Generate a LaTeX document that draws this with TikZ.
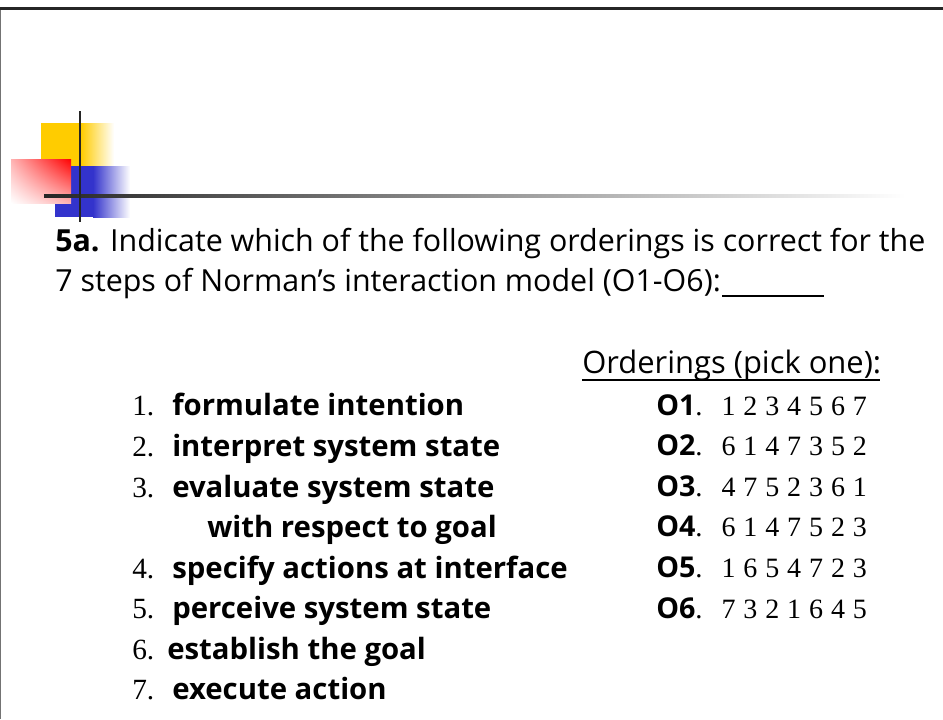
\documentclass[tikz,border=0pt]{standalone}
\usepackage{fontspec}
\setmainfont{Liberation Serif}
\newfontfamily\comic{Open Sans}
\usetikzlibrary{positioning, shadings}

\begin{document}
\begin{tikzpicture}[x=0.75pt,y=-0.75pt,
    every node/.style={inner sep=0pt, anchor=base west},
    qtext/.style={font=\comic\fontsize{22.8}{27}\selectfont},
    steptext/.style={font=\comic\bfseries\fontsize{22}{26}\selectfont},
    stepnum/.style={font=\fontsize{22}{26}\selectfont},
    ordhead/.style={font=\comic\fontsize{23.2}{27}\selectfont},
    ordlabel/.style={font=\comic\bfseries\fontsize{21.5}{26}\selectfont},
    digit/.style={font=\fontsize{21}{25}\selectfont, anchor=base},
  ]
  \useasboundingbox (0,0) rectangle (943,719);
  % slide frame
  \fill [ black!85 ] (0,7) rectangle (943,10);
  \fill [ black!55 ] (0,10) rectangle (1.3,719);
  % corner logo
  \fill [ fill={rgb,255:red,255;green,204;blue,0} ] (41,123) rectangle (81.5,167);
  \shade [ left color={rgb,255:red,255;green,204;blue,0}, right color=white ] (81,123) rectangle (114,167);
  \fill [ fill={rgb,255:red,51;green,51;blue,204} ] (55,166) rectangle (93.5,217);
  \shade [ left color={rgb,255:red,51;green,51;blue,204}, right color=white ] (93,166) rectangle (130,217);
  \shade [ upper right=red, upper left=red!30, lower right=red!30, lower left=white ] (11,159) rectangle (71,203);
  \shade [ left color=black!85, right color=white ] (44,194.3) rectangle (905,197.7);
  \fill [ black!85 ] (78.8,111) rectangle (81.2,222);

  % question
  \node [qtext] (qline1) at (55,251) {\textbf{5a.} Indicate which of the following orderings is correct for the};
  \node [qtext] (qline2) at (55,291) {7 steps of Norman’s interaction model (O1-O6):};
  \coordinate (blankL) at (722,296);
  \coordinate (blankR) at (824,296);
  \draw [ line width=1.2pt ] (blankL) -- (blankR);

  % the seven steps
  \node [stepnum] (n1) at (132,415) {1.};
  \node [steptext] (s1) at (172,415) {formulate intention};
  \node [stepnum] (n2) at (132,456) {2.};
  \node [steptext] (s2) at (172,456) {interpret system state};
  \node [stepnum] (n3) at (132,497) {3.};
  \node [steptext] (s3) at (172,497) {evaluate system state};
  \node [steptext] (s3b) at (207,537) {with respect to goal};
  \node [stepnum] (n4) at (132,578) {4.};
  \node [steptext] (s4) at (172,578) {specify actions at interface};
  \node [stepnum] (n5) at (132,618) {5.};
  \node [steptext] (s5) at (172,618) {perceive system state};
  \node [stepnum] (n6) at (132,659) {6.};
  \node [steptext] (s6) at (167,659) {establish the goal};
  \node [stepnum] (n7) at (132,699) {7.};
  \node [steptext] (s7) at (172,699) {execute action};

  % orderings
  \node [ordhead] (ordhead) at (582,373) {Orderings (pick one):};
  \coordinate (ordL) at (582,380);
  \coordinate (ordR) at (880,380);
  \draw [ line width=1.2pt ] (ordL) -- (ordR);
  \foreach \seq [count=\i] in {{1,2,3,4,5,6,7},{6,1,4,7,3,5,2},{4,7,5,2,3,6,1},{6,1,4,7,5,2,3},{1,6,5,4,7,2,3},{7,3,2,1,6,4,5}} {
    \node [ordlabel] (o\i) at (656,{415+40.6*(\i-1)}) {O\i{\rmfamily\mdseries .}};
    \foreach \d [count=\j] in \seq
      \node [digit] (o\i d\j) at ({728.5+21.9*(\j-1)},{415+40.6*(\i-1)}) {\d};
  }
\end{tikzpicture}
\end{document}
